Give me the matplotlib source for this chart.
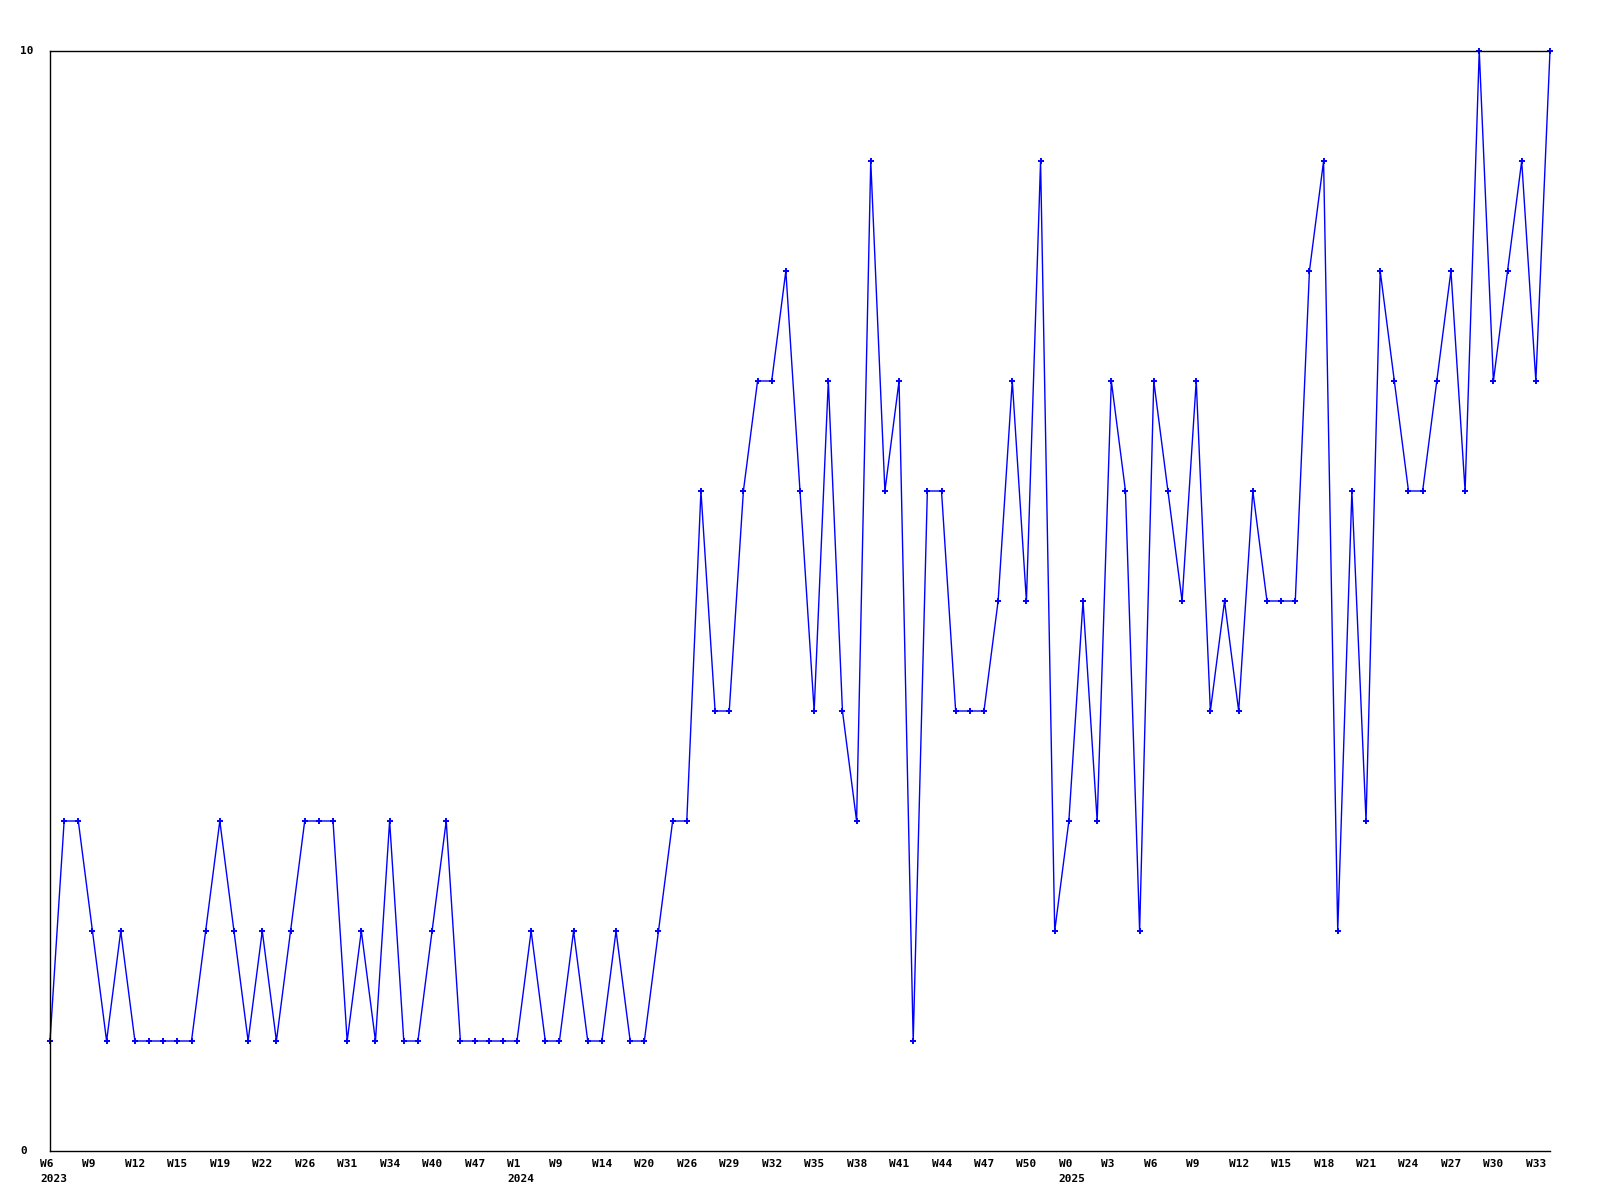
import matplotlib
matplotlib.use('Agg')
import matplotlib.pyplot as plt
from matplotlib.transforms import blended_transform_factory, ScaledTranslation

# weekly counts, one per point
values = [1, 3, 3, 2, 1, 2, 1, 1, 1, 1, 1, 2, 3, 2, 1, 2, 1, 2, 3, 3,
          3, 1, 2, 1, 3, 1, 1, 2, 3, 1, 1, 1, 1, 1, 2, 1, 1, 2, 1, 1,
          2, 1, 1, 2, 3, 3, 6, 4, 4, 6, 7, 7, 8, 6, 4, 7, 4, 3, 9, 6,
          7, 1, 6, 6, 4, 4, 4, 5, 7, 5, 9, 2, 3, 5, 3, 7, 6, 2, 7, 6,
          5, 7, 4, 5, 4, 6, 5, 5, 5, 8, 9, 2, 6, 3, 8, 7, 6, 6, 7, 8,
          6, 10, 7, 8, 9, 7, 10]

# a label every third point
week_labels = ['W6', 'W9', 'W12', 'W15', 'W19', 'W22', 'W26', 'W31', 'W34', 'W40',
               'W47', 'W1', 'W9', 'W14', 'W20', 'W26', 'W29', 'W32', 'W35', 'W38',
               'W41', 'W44', 'W47', 'W50', 'W0', 'W3', 'W6', 'W9', 'W12', 'W15',
               'W18', 'W21', 'W24', 'W27', 'W30', 'W33']
year_labels = {0: '2023', 11: '2024', 24: '2025'}
y_labels = [0, 10]

font = dict(family='DejaVu Sans Mono', fontweight='bold', fontsize=8)

fig = plt.figure(figsize=(16, 12), dpi=100)
ax = fig.add_axes([50 / 1600, 1 - 1151 / 1200, 1500 / 1600, 1100 / 1200])

x = list(range(len(values)))
ax.plot(x, values, color='#0000ff', linewidth=1.0, marker='+', markersize=4.5,
        markeredgewidth=1.4, clip_on=False)

ax.set_xlim(0, len(values) - 1)
ax.set_ylim(0, 10)
ax.set_xticks([])
ax.set_yticks([])
ax.spines['right'].set_visible(False)
for s in ['left', 'top', 'bottom']:
    ax.spines[s].set_linewidth(1.0)
    ax.spines[s].set_color('black')

# x labels: left aligned a little before each point
tx = blended_transform_factory(ax.transData, fig.transFigure)
shift = ScaledTranslation(-10 / 100, 0, fig.dpi_scale_trans)
for i, lab in enumerate(week_labels):
    ax.text(i * 3, 1 - 1164 / 1200, lab, transform=tx + shift, ha='left', va='center', **font)
for i, yr in year_labels.items():
    ax.text(i * 3, 1 - 1179 / 1200, yr, transform=tx + shift, ha='left', va='center', **font)

# y labels on the far left
ty = blended_transform_factory(fig.transFigure, ax.transData)
for v in y_labels:
    ax.text(20 / 1600, v, str(v), transform=ty, ha='left', va='center', **font)

fig.savefig('out.png', dpi=100, facecolor='white')
